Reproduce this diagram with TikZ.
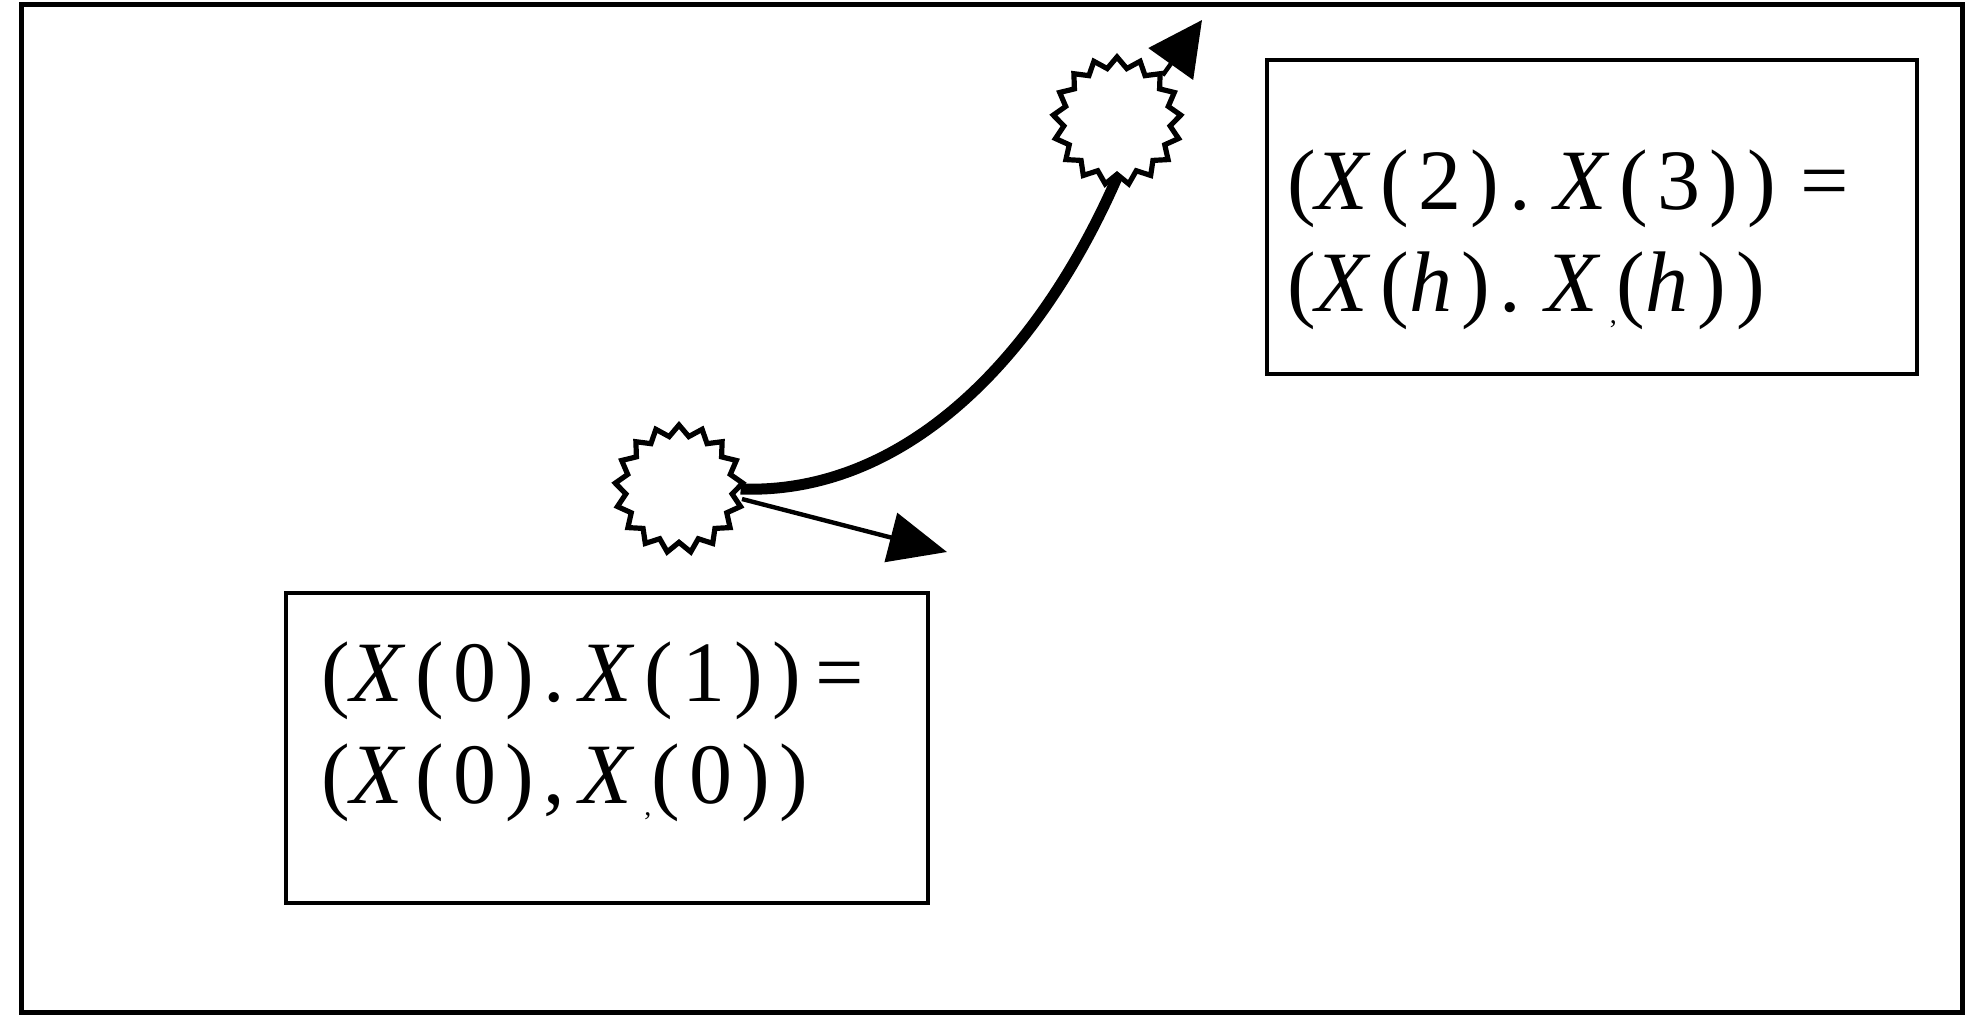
\documentclass[tikz,border=0pt]{standalone}
\usepackage{fontspec}
\setmainfont{Liberation Serif}
\usetikzlibrary{shapes.geometric,arrows.meta}
\newcommand{\vX}{\textit{X}}
\newcommand{\subc}{\raisebox{-0.3ex}{\fontsize{14pt}{14pt}\selectfont,}}
\begin{document}
\begin{tikzpicture}[x=0.5pt,y=-0.5pt,
  frame/.style={draw=black,line width=2.5pt},
  eqbox/.style={draw=black,line width=2.2pt,rectangle,inner sep=0pt},
  eqtext/.style={font=\fontsize{43pt}{51pt}\selectfont\addfontfeature{LetterSpace=11},align=left,inner sep=0pt},
  burst/.style={draw=black,line width=2.6pt,fill=white,star,star points=17,star point ratio=1.2,minimum size=64pt,inner sep=0pt},
  thickcurve/.style={line width=5.5pt},
  thinarrow/.style={line width=2.2pt,-{Triangle[length=29pt,width=25pt]}},
  toparrow/.style={line width=2.2pt,-{Triangle[length=27pt,width=27pt]}}]
\useasboundingbox (0,0) rectangle (1967,1029);
\fill[white] (0,0) rectangle (1967,1029);
\draw[frame] (21,4) rectangle (1962,1012);
% boxes
\node[eqbox,minimum width=325pt,minimum height=157pt] (topbox) at (1592,217) {};
\node[eqbox,minimum width=321pt,minimum height=155pt] (botbox) at (607,748) {};
\node[eqtext] (toptext) at (1568,240) {(\vX(2).\;\vX(3))\;=\\(\vX(\textit{h}).\;\vX\subc(\textit{h}))};
\node[eqtext] (bottext) at (593,732) {(\vX(0).\,\vX(1))\,=\\(\vX(0),\,\vX\subc(0))};
% starbursts
\node[burst] (s1) at (679,489) {};
\node[burst] (s2) at (1117,121) {};
\coordinate (tipA) at (947,552);
\coordinate (tipB) at (1202,20);
\draw[thickcurve] (s1.east) .. controls (900,495) and (1035,365) .. (s2.south);
\draw[thinarrow] (742,499) -- (tipA);
\draw[toparrow] (s2.north east) -- (tipB);
\end{tikzpicture}
\end{document}
